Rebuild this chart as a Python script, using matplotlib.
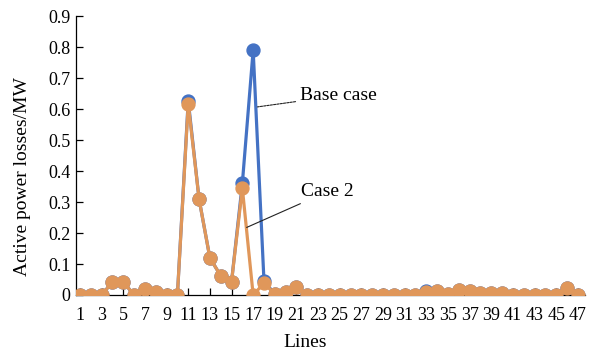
import matplotlib

matplotlib.use("Agg")

import matplotlib.pyplot as plt
import numpy as np

lines = np.arange(1, 48)

# Active power losses (MW) per line
case2 = [0, 0, 0, 0.042, 0.042, 0, 0.018, 0.01, 0, 0,
         0.617, 0.31, 0.12, 0.062, 0.042, 0.345, 0, 0.038, 0.003, 0.01,
         0.026, 0, 0, 0, 0, 0, 0, 0, 0, 0,
         0, 0, 0.01, 0.012, 0.004, 0.015, 0.014, 0.008, 0.008, 0.008,
         0, 0, 0, 0, 0, 0.022, 0]
base_case = [0, 0, 0, 0.042, 0.042, 0, 0.018, 0.01, 0, 0,
             0.627, 0.31, 0.12, 0.062, 0.042, 0.36, 0.79, 0.045, 0.003, 0.01,
             0.026, 0, 0, 0, 0, 0, 0, 0, 0, 0,
             0, 0, 0.013, 0.012, 0.004, 0.017, 0.014, 0.008, 0.008, 0.008,
             0, 0, 0, 0, 0, 0.022, 0]

x_ticks = np.arange(1, 48, 2)
y_ticks = np.round(np.arange(0, 0.91, 0.1), 1)
y_labels = ["0"] + [f"{v:.1f}" for v in y_ticks[1:]]

plt.rcParams["font.family"] = ["Liberation Serif", "DejaVu Serif"]

fig = plt.figure(figsize=(5.91, 3.58), dpi=100)
ax = fig.add_axes([0.1286, 0.176, 0.861, 0.779])

blue = "#4472C4"
orange = "#E0975A"
ax.plot(lines, base_case, color=blue, lw=2.3, marker="o", ms=9.3, zorder=2)
ax.plot(lines, case2, color=orange, lw=2.3, marker="o", ms=9.3, zorder=3)

ax.set_xlim(0.63, 47.65)
ax.set_ylim(0, 0.9)
ax.set_xticks(x_ticks)
ax.set_yticks(y_ticks)
ax.set_yticklabels(y_labels)
ax.tick_params(axis="both", direction="in", length=5, width=0.9, labelsize=13)
ax.tick_params(axis="x", pad=9)
ax.tick_params(axis="y", pad=4)
for s in ["top", "right"]:
    ax.spines[s].set_visible(False)
for s in ["left", "bottom"]:
    ax.spines[s].set_linewidth(0.9)

ax.set_xlabel("Lines", fontsize=14, va="center")
ax.set_ylabel("Active power losses/MW", fontsize=14, va="center")
ax.xaxis.set_label_coords(0.45, -0.172)
ax.yaxis.set_label_coords(-0.106, 0.423)

# callouts for the two series
ax.annotate("Base case", xy=(17.4, 0.607), xytext=(21.3, 0.643),
            fontsize=14, va="center", ha="left",
            arrowprops=dict(arrowstyle="-", color="#222222", lw=0.8,
                            linestyle=(0, (2, 1)), shrinkA=1, shrinkB=0))
ax.annotate("Case 2", xy=(16.4, 0.218), xytext=(21.4, 0.333),
            fontsize=14, va="center", ha="left",
            arrowprops=dict(arrowstyle="-", color="#222222", lw=0.8,
                            shrinkA=1, shrinkB=0))

fig.savefig("out.png", dpi=100)
